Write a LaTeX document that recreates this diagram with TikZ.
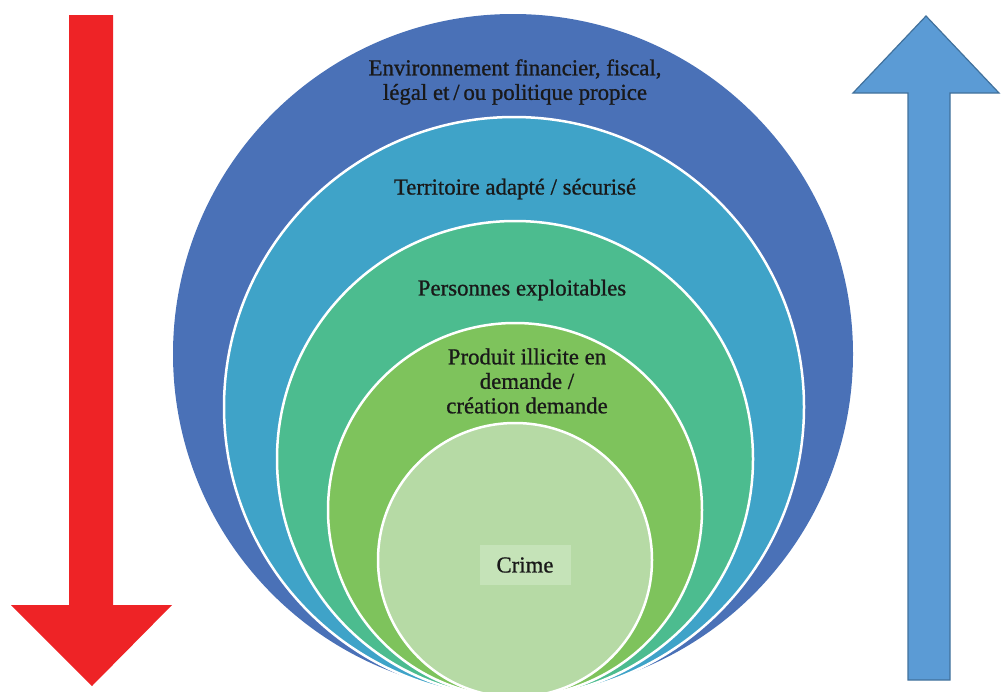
\documentclass[tikz,border=0pt]{standalone}
\usepackage{fontspec}
\setmainfont{Liberation Serif}
\newfontfamily\ringfont[FakeBold=0.9]{Liberation Serif}
\usepackage{tikz}

\definecolor{ringA}{HTML}{4A71B7}
\definecolor{ringB}{HTML}{3FA3C8}
\definecolor{ringC}{HTML}{4CBC8F}
\definecolor{ringD}{HTML}{7EC35C}
\definecolor{ringE}{HTML}{B6DAA5}
\definecolor{crimebox}{HTML}{C5E3B8}
\definecolor{downred}{HTML}{EE2326}
\definecolor{upblue}{HTML}{5B9BD5}
\definecolor{upblueline}{HTML}{41719C}

\tikzset{
	ring/.style={draw=white, line width=2.5pt},
	ringlabel/.style={align=center, font=\ringfont\fontsize{22.8}{24.5}\selectfont, text=black!90}
}

\begin{document}
\begin{tikzpicture}[x=1pt,y=-1pt]
	\useasboundingbox (0,0) rectangle (1001,691);
	
	%down arrow (red)
	\fill[downred] (69,15) -- (113,15) -- (113,605) -- (172,605) -- (92,686) -- (11,605) -- (69,605) -- cycle;
	
	%up arrow (blue)
	\filldraw[fill=upblue, draw=upblueline, line width=1.2pt] (908,680) -- (950,680) -- (950,93) -- (999,93) -- (926,16) -- (853,93) -- (908,93) -- cycle;
	
	%rings
	\fill[ringA] (513,354) circle (340);
	\filldraw[ring, fill=ringB] (514,407) circle (290);
	\filldraw[ring, fill=ringC] (515,459) circle (238);
	\filldraw[ring, fill=ringD] (515,510) circle (187);
	\filldraw[ring, fill=ringE] (515,560) circle (137);
	
	%labels
	\node[ringlabel] (envt) at (515,82) {Environnement financier, fiscal,\\l\'egal et\,/\,ou politique propice};
	\node[ringlabel] (terr) at (515,189) {Territoire adapt\'e / s\'ecuris\'e};
	\node[ringlabel] (pers) at (522,290) {Personnes exploitables};
	\node[ringlabel] (prod) at (527,381) {Produit illicite en\\demande /\\cr\'eation demande};
	\node[ringlabel, fill=crimebox, minimum width=91pt, minimum height=40pt] (crime) at (525,565) {Crime};
\end{tikzpicture}
\end{document}
